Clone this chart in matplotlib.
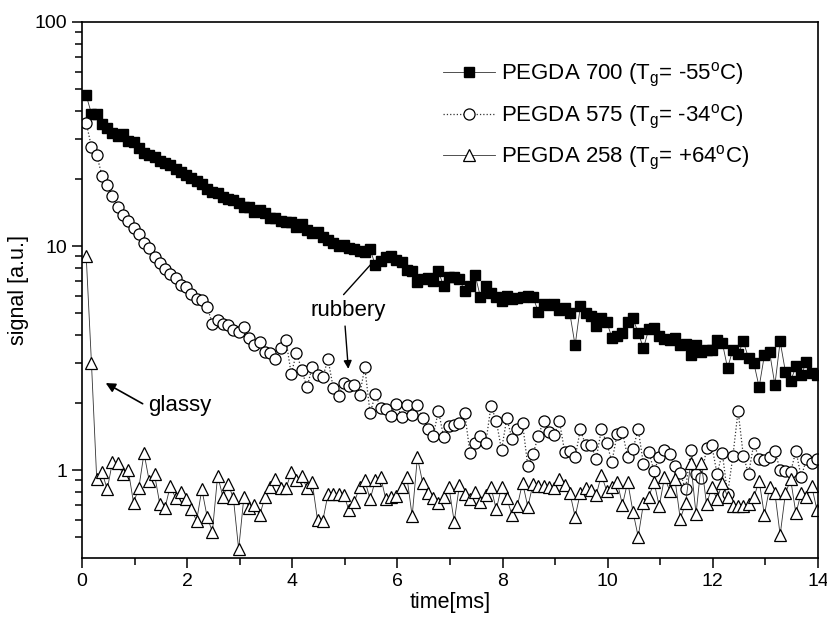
import matplotlib

matplotlib.use("Agg")
import matplotlib.pyplot as plt
from matplotlib.ticker import MultipleLocator, LogLocator, FuncFormatter, NullFormatter

plt.rcParams["font.family"] = ["Liberation Sans", "DejaVu Sans"]
plt.rcParams["mathtext.fontset"] = "custom"
plt.rcParams["mathtext.rm"] = "Liberation Sans"
plt.rcParams["mathtext.it"] = "Liberation Sans"

# sample times [ms]
time_ms = [
    0.08, 0.18, 0.28, 0.38, 0.48, 0.58, 0.68, 0.78, 0.88, 0.98,
    1.08, 1.18, 1.28, 1.38, 1.48, 1.58, 1.68, 1.78, 1.88, 1.98,
    2.08, 2.18, 2.28, 2.38, 2.48, 2.58, 2.68, 2.78, 2.88, 2.98,
    3.08, 3.18, 3.28, 3.38, 3.48, 3.58, 3.68, 3.78, 3.88, 3.98,
    4.08, 4.18, 4.28, 4.38, 4.48, 4.58, 4.68, 4.78, 4.88, 4.98,
    5.08, 5.18, 5.28, 5.38, 5.48, 5.58, 5.68, 5.78, 5.88, 5.98,
    6.08, 6.18, 6.28, 6.38, 6.48, 6.58, 6.68, 6.78, 6.88, 6.98,
    7.08, 7.18, 7.28, 7.38, 7.48, 7.58, 7.68, 7.78, 7.88, 7.98,
    8.08, 8.18, 8.28, 8.38, 8.48, 8.58, 8.68, 8.78, 8.88, 8.98,
    9.08, 9.18, 9.28, 9.38, 9.48, 9.58, 9.68, 9.78, 9.88, 9.98,
    10.08, 10.18, 10.28, 10.38, 10.48, 10.58, 10.68, 10.78, 10.88, 10.98,
    11.08, 11.18, 11.28, 11.38, 11.48, 11.58, 11.68, 11.78, 11.88, 11.98,
    12.08, 12.18, 12.28, 12.38, 12.48, 12.58, 12.68, 12.78, 12.88, 12.98,
    13.08, 13.18, 13.28, 13.38, 13.48, 13.58, 13.68, 13.78, 13.88, 13.98,
]

pegda700 = [
    47, 39, 39, 35, 33.5, 32, 31, 31.5, 29.5, 29,
    27.5, 26, 25.5, 25, 24, 23.5, 23, 22, 21.5, 20.8,
    20.2, 19.5, 19, 18, 17.5, 17.3, 16.5, 16.2, 16, 15.5,
    15, 15, 14.2, 14.5, 14, 13.3, 13.3, 13, 12.8, 12.8,
    12.2, 12.5, 11.8, 11.4, 11.5, 11, 10.6, 10.3, 10.0, 10.1,
    9.8, 9.7, 9.5, 9.4, 9.7, 8.2, 8.6, 8.9, 9.0, 8.7,
    8.5, 7.8, 7.7, 6.9, 7.1, 7.2, 7.0, 7.7, 6.6, 7.3,
    7.3, 7.1, 6.3, 6.6, 7.4, 5.9, 6.6, 6.2, 5.9, 5.7,
    6.0, 5.8, 5.85, 5.95, 6.0, 5.9, 5.1, 5.5, 5.45, 5.5,
    5.2, 5.3, 5.0, 3.6, 5.4, 5.05, 4.85, 4.4, 4.75, 4.6,
    3.9, 3.95, 4.1, 4.6, 4.75, 4.1, 3.5, 4.25, 4.3, 3.95,
    3.85, 3.8, 3.9, 3.6, 3.65, 3.25, 3.6, 3.35, 3.45, 3.45,
    3.8, 3.7, 2.85, 3.45, 3.3, 3.75, 3.15, 3.0, 2.35, 3.25,
    3.35, 2.4, 3.75, 2.75, 2.5, 2.9, 2.65, 3.05, 2.7, 2.65,
]

pegda575 = [
    35.5, 27.7, 25.5, 20.6, 18.7, 16.7, 14.9, 13.7, 13.0, 12.0,
    11.3, 10.35, 9.8, 8.95, 8.4, 7.93, 7.47, 7.17, 6.7, 6.58,
    6.13, 5.79, 5.74, 5.36, 4.5, 4.67, 4.5, 4.44, 4.22, 4.14,
    4.37, 3.87, 3.61, 3.74, 3.37, 3.32, 3.12, 3.49, 3.8, 2.68,
    3.34, 2.8, 2.34, 2.89, 2.65, 2.61, 3.12, 2.32, 2.14, 2.45,
    2.37, 2.4, 2.16, 2.87, 1.79, 2.18, 1.9, 1.88, 1.75, 1.98,
    1.73, 1.95, 1.76, 1.95, 1.70, 1.52, 1.42, 1.84, 1.40, 1.57,
    1.59, 1.63, 1.80, 1.19, 1.32, 1.42, 1.32, 1.93, 1.66, 1.23,
    1.70, 1.38, 1.53, 1.62, 1.04, 1.18, 1.42, 1.66, 1.48, 1.43,
    1.66, 1.21, 1.22, 1.14, 1.52, 1.29, 1.30, 1.12, 1.52, 1.32,
    1.09, 1.45, 1.48, 1.14, 1.24, 1.52, 1.06, 1.21, 0.99, 1.14,
    1.23, 1.18, 1.04, 0.97, 0.82, 1.23, 0.96, 0.92, 1.25, 1.29,
    0.96, 1.19, 0.78, 1.15, 1.84, 1.155, 0.96, 1.32, 1.12, 1.11,
    1.14, 1.22, 1.0, 0.99, 0.98, 1.22, 0.93, 1.12, 1.08, 1.12,
]

pegda258 = [
    9.0, 3.0, 0.91, 0.98, 0.82, 1.09, 1.07, 0.956, 1.0, 0.715,
    0.83, 1.19, 0.89, 0.956, 0.705, 0.68, 0.85, 0.75, 0.80, 0.74,
    0.667, 0.594, 0.82, 0.619, 0.53, 0.943, 0.76, 0.866, 0.748, 0.443,
    0.76, 0.68, 0.70, 0.63, 0.755, 0.837, 0.909, 0.829, 0.829, 0.976,
    0.902, 0.94, 0.829, 0.881, 0.598, 0.594, 0.781, 0.781, 0.781, 0.773,
    0.66, 0.72, 0.837, 0.902, 0.74, 0.90, 0.933, 0.74, 0.76, 0.765,
    0.842, 0.933, 0.623, 1.14, 0.878, 0.787, 0.748, 0.715, 0.755, 0.837,
    0.588, 0.857, 0.781, 0.74, 0.80, 0.722, 0.773, 0.837, 0.667, 0.843,
    0.747, 0.63, 0.69, 0.878, 0.686, 0.866, 0.848, 0.848, 0.837, 0.828,
    0.908, 0.857, 0.792, 0.619, 0.792, 0.828, 0.814, 0.773, 0.95, 0.809,
    0.837, 0.887, 0.698, 0.887, 0.652, 0.504, 0.71, 0.755, 0.887, 0.69,
    0.927, 0.809, 0.908, 0.604, 0.71, 1.078, 0.636, 1.078, 0.705, 0.837,
    0.74, 0.878, 0.76, 0.69, 0.69, 0.69, 0.705, 0.755, 0.896, 0.63,
    0.837, 0.792, 0.513, 0.787, 0.908, 0.64, 0.792, 0.76, 0.848, 0.663,
]

labels = [
    r"PEGDA 700 (T$_\mathrm{g}$= -55$^\mathrm{o}$C)",
    r"PEGDA 575 (T$_\mathrm{g}$= -34$^\mathrm{o}$C)",
    r"PEGDA 258 (T$_\mathrm{g}$= +64$^\mathrm{o}$C)",
]

fig = plt.figure(figsize=(8.28, 6.21), dpi=100)
ax = fig.add_axes([82 / 828, 1 - 558 / 621, 736 / 828, 536 / 621])

ax.plot(time_ms, pegda700, ls="-", lw=0.6, color="#333333", marker="s", ms=7.5,
        mfc="black", mec="black", label=labels[0])
ax.plot(time_ms, pegda575, ls=":", lw=0.9, color="#333333", marker="o", ms=8,
        mfc="white", mec="black", mew=0.9, label=labels[1])
ax.plot(time_ms, pegda258, ls="-", lw=0.6, color="#333333", marker="^", ms=8,
        mfc="white", mec="black", mew=0.9, label=labels[2])

ax.set_yscale("log")
ax.set_xlim(0, 14)
ax.set_ylim(0.405, 100)
ax.xaxis.set_major_locator(MultipleLocator(2))
ax.xaxis.set_minor_locator(MultipleLocator(1))
ax.yaxis.set_major_locator(LogLocator(base=10))
ax.yaxis.set_minor_locator(LogLocator(base=10, subs=range(2, 10)))
ax.yaxis.set_major_formatter(FuncFormatter(lambda v, _: f"{v:g}"))
ax.yaxis.set_minor_formatter(NullFormatter())
ax.tick_params(which="both", direction="out", top=False, right=False, width=1.1,
               labelsize=14)
ax.tick_params(which="major", length=7)
ax.tick_params(which="minor", length=5)
for sp in ax.spines.values():
    sp.set_linewidth(1.2)

ax.set_xlabel("time[ms]", fontsize=15.5, labelpad=2)
ax.set_ylabel("signal [a.u.]", fontsize=15.5, labelpad=4)

ax.legend(loc="upper left", bbox_to_anchor=(0.49, 0.927), frameon=False,
          fontsize=16, handlelength=2.35, handletextpad=0.27, labelspacing=0.6,
          borderpad=0, borderaxespad=0, numpoints=1)

ax.text(5.06, 5.13, "rubbery", ha="center", va="center", fontsize=16)
ax.annotate("", xy=(5.54, 8.51), xytext=(4.94, 5.94),
            arrowprops=dict(arrowstyle="-", lw=1.0, color="black"))
ax.annotate("", xy=(5.07, 2.75), xytext=(5.0, 4.52),
            arrowprops=dict(arrowstyle="-|>", lw=1.0, color="black",
                            mutation_scale=12))
ax.text(1.86, 1.95, "glassy", ha="center", va="center", fontsize=16)
ax.annotate("", xy=(0.405, 2.48), xytext=(1.2, 1.95),
            arrowprops=dict(arrowstyle="-|>", lw=1.2, color="black",
                            mutation_scale=14))

fig.savefig("out.png", dpi=100, facecolor="white")
